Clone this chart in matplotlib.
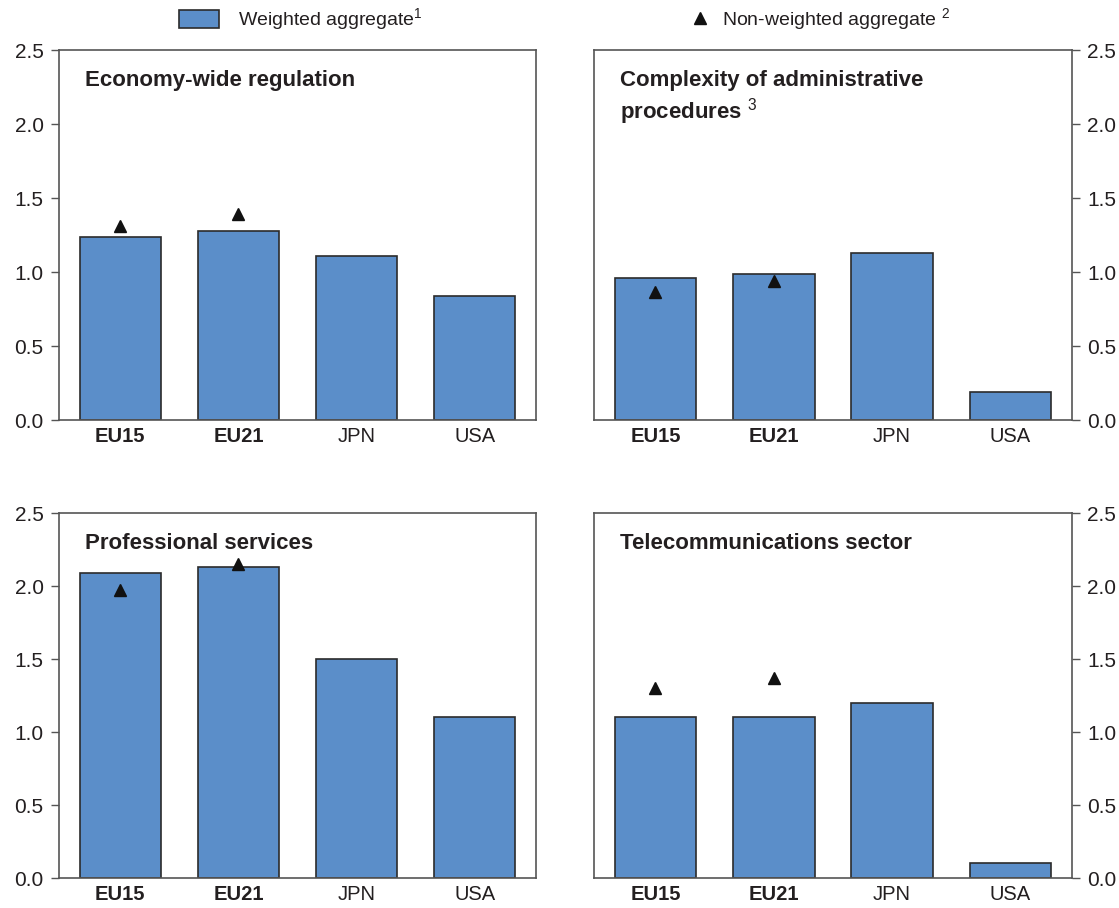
import matplotlib
matplotlib.use("Agg")
import matplotlib.pyplot as plt
from matplotlib.patches import Patch
from matplotlib.lines import Line2D

plt.rcParams['font.family'] = ['Liberation Sans', 'DejaVu Sans']
plt.rcParams['mathtext.fontset'] = 'custom'
plt.rcParams['mathtext.rm'] = 'Liberation Sans'
plt.rcParams['mathtext.bf'] = 'Liberation Sans:bold'

countries = ["EU15", "EU21", "JPN", "USA"]
titles = ["Economy-wide regulation",
          "Complexity of administrative\nprocedures $^3$",
          "Professional services",
          "Telecommunications sector"]
weighted = [
    [1.24, 1.28, 1.11, 0.84],
    [0.96, 0.99, 1.13, 0.19],
    [2.09, 2.13, 1.50, 1.10],
    [1.10, 1.10, 1.20, 0.10],
]
# only EU aggregates have a non-weighted version
nonweighted = [
    [1.31, 1.39],
    [0.865, 0.94],
    [1.97, 2.15],
    [1.30, 1.37],
]
yticks = [0.0, 0.5, 1.0, 1.5, 2.0, 2.5]

bar_col = "#5b8ec9"
txt_col = "#231f20"

fig = plt.figure(figsize=(11.19, 9.08), dpi=100)
positions = [
    [0.0527, 0.5374, 0.4263, 0.4075],
    [0.5308, 0.5374, 0.4272, 0.4075],
    [0.0527, 0.0330, 0.4263, 0.4020],
    [0.5308, 0.0330, 0.4272, 0.4020],
]

for k in range(4):
    ax = fig.add_axes(positions[k])
    x = range(len(countries))
    ax.bar(x, weighted[k], width=0.69, color=bar_col, edgecolor="#2b2b2b",
           linewidth=1.2, zorder=2)
    ax.plot(range(len(nonweighted[k])), nonweighted[k], linestyle="none",
            marker="^", color="#111111", markersize=9, zorder=3)
    ax.set_xlim(-0.52, 3.52)
    ax.set_ylim(0, 2.5)
    ax.set_yticks(yticks)
    ax.set_yticklabels([f"{v:.1f}" for v in yticks], fontsize=15, color=txt_col)
    ax.set_xticks(list(x))
    ax.set_xticklabels(countries, fontsize=14.5, color=txt_col)
    for i, lab in enumerate(ax.get_xticklabels()):
        if i < 2:
            lab.set_fontweight("bold")
    ax.tick_params(axis="x", length=0, pad=5)
    ax.tick_params(axis="y", length=6, width=1, color="#555555", pad=5)
    if k % 2 == 1:
        ax.yaxis.tick_right()
    for s in ax.spines.values():
        s.set_color("#555555")
        s.set_linewidth(1.2)
    ax.text(0.054, 0.945, titles[k], transform=ax.transAxes, fontsize=16,
            fontweight="bold", color=txt_col, va="top", ha="left",
            linespacing=1.2)

bar_handle = Patch(facecolor=bar_col, edgecolor="#2b2b2b", linewidth=1.2)
tri_handle = Line2D([], [], linestyle="none", marker="^", color="#111111",
                    markersize=9)
fig.legend([bar_handle], ["Weighted aggregate$^1$"],
           loc="upper left", bbox_to_anchor=(0.1439, 1.0126),
           frameon=False, fontsize=14, handlelength=2.06,
           handleheight=1.03, handletextpad=1.0, labelcolor=txt_col)
fig.legend([tri_handle], ["Non-weighted aggregate $^2$"],
           loc="upper left", bbox_to_anchor=(0.6014, 1.0126),
           frameon=False, fontsize=14, handlelength=1.0,
           handleheight=1.03, handletextpad=0.6, labelcolor=txt_col)

fig.savefig("out.png", dpi=100, facecolor="white")
